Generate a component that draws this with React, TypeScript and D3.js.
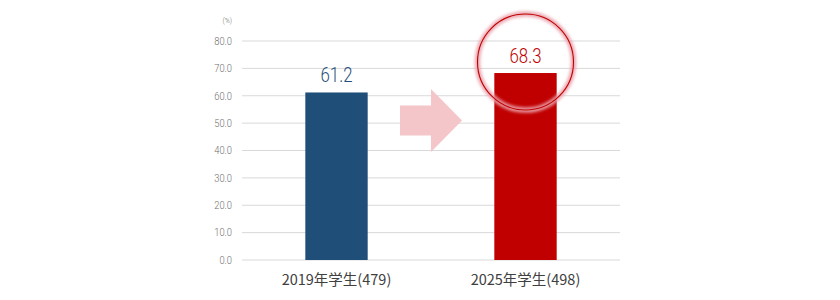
import React from "react";
import * as d3 from "d3";

const categories = ["2019年学生(479)", "2025年学生(498)"];
const values = [61.2, 68.3];
const barColors = ["#1f4e79", "#c00000"];
const yTicks = [0, 10, 20, 30, 40, 50, 60, 70, 80];
const unitLabel = "(%)";

const W = 840;
const H = 300;
const num = "Roboto, 'Noto Sans', sans-serif";
const cjk = "'Noto Sans CJK JP', 'Noto Sans', sans-serif";

export default function App() {
  const x = d3.scaleBand<string>().domain(categories).range([242, 620]).paddingInner(0.67).paddingOuter(0.335);
  const y = d3.scaleLinear().domain([0, 80]).range([260, 41]);
  const bw = x.bandwidth();

  const b1r = (x(categories[0]) as number) + bw;
  const b2l = x(categories[1]) as number;
  const mid = (b1r + b2l) / 2;
  const ay = y(51);
  const arrowPath = d3.path();
  arrowPath.moveTo(mid - 31, ay - 15);
  arrowPath.lineTo(mid, ay - 15);
  arrowPath.lineTo(mid, ay - 31.5);
  arrowPath.lineTo(mid + 31, ay);
  arrowPath.lineTo(mid, ay + 31.5);
  arrowPath.lineTo(mid, ay + 15);
  arrowPath.lineTo(mid - 31, ay + 15);
  arrowPath.closePath();

  const cx2 = (x(categories[1]) as number) + bw / 2;
  const cy2 = y(values[1]) - 11;

  return (
    <svg width={W} height={H} style={{ display: "block", position: "absolute", left: 0, top: 0 }}>
      <defs>
        <filter id="glow" x="-30%" y="-30%" width="160%" height="160%">
          <feGaussianBlur stdDeviation="1.8" />
        </filter>
      </defs>
      <rect width={W} height={H} fill="#ffffff" />
      {yTicks.map((t) => (
        <g key={t}>
          <line x1={242} x2={620} y1={y(t)} y2={y(t)} stroke="#d9d9d9" strokeWidth={1} />
          <text
            transform={`translate(232,${y(t)}) scale(0.85,1)`}
            dy="0.35em"
            textAnchor="end"
            fontFamily={num}
            fontWeight={300}
            fontSize={11}
            fill="#6f6f6f"
          >
            {t.toFixed(1)}
          </text>
        </g>
      ))}
      <text transform="translate(232,20) scale(0.85,1)" dy="0.35em" textAnchor="end" fontFamily={num} fontWeight={300} fontSize={8} fill="#6f6f6f">
        {unitLabel}
      </text>
      <path d={arrowPath.toString()} fill="#f4c6c9" />
      {categories.map((c, i) => (
        <g key={c}>
          <rect x={x(c)} y={y(values[i])} width={bw} height={y(0) - y(values[i])} fill={barColors[i]} />
          <text
            transform={`translate(${(x(c) as number) + bw / 2},${y(values[i]) - 10}) scale(0.82,1)`}
            textAnchor="middle"
            fontFamily={num}
            fontWeight={300}
            fontSize={20.5}
            fill={barColors[i]}
          >
            {values[i].toFixed(1)}
          </text>
          <text x={(x(c) as number) + bw / 2} y={284.5} textAnchor="middle" fontFamily={cjk} fontWeight={400} fontSize={14.5} fill="#404040">
            {c}
          </text>
        </g>
      ))}
      <circle cx={cx2} cy={cy2} r={48} fill="none" stroke="#eaa3ad" strokeWidth={5.5} filter="url(#glow)" opacity={0.9} />
      <circle cx={cx2} cy={cy2} r={48} fill="none" stroke="#c00000" strokeWidth={1.1} />
    </svg>
  );
}
